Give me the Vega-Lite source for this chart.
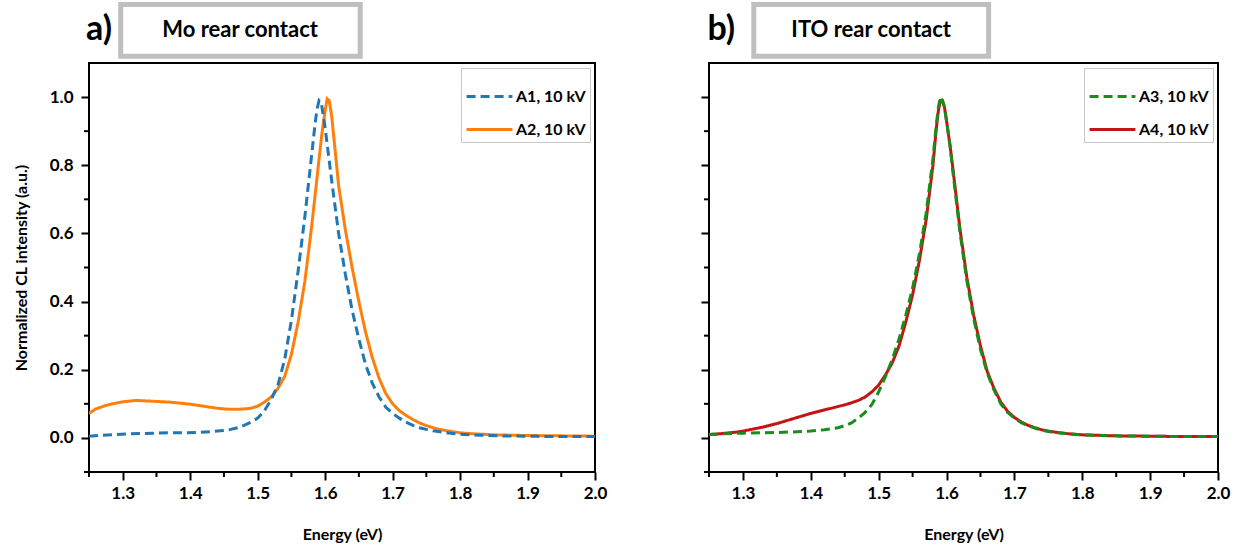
{
  "$schema": "https://vega.github.io/schema/vega-lite/v6.json",
  "padding": {"left": 12, "top": 0, "right": 5, "bottom": 5},
  "background": "white",
  "config": {
    "font": "Lato",
    "view": {"stroke": "black", "strokeWidth": 2},
    "axis": {
      "domain": false, "grid": false, "tickColor": "black", "tickWidth": 2, "tickSize": 8,
      "labelFont": "Lato", "labelFontSize": 17, "labelFontWeight": "bold", "labelColor": "black",
      "titleFont": "Lato", "titleFontSize": 16, "titleFontWeight": "bold", "titleColor": "black",
      "labelFlush": false, "labelOverlap": false, "labelBound": false
    },
    "legend": {
      "orient": "top-right", "offset": 5, "strokeColor": "#c8c8c8", "fillColor": "white", "padding": 4,
      "labelFont": "Lato", "labelFontSize": 16, "labelFontWeight": "bold", "labelColor": "black",
      "symbolType": "stroke", "symbolSize": 2100, "symbolStrokeWidth": 3, "rowPadding": -20, "labelOffset": 2
    }
  },
  "datasets": {
    "xminor": [{"t":1.25},{"t":1.35},{"t":1.45},{"t":1.55},{"t":1.65},{"t":1.75},{"t":1.85},{"t":1.95}],
    "yminor": [{"t":-0.1},{"t":0.1},{"t":0.3},{"t":0.5},{"t":0.7},{"t":0.9}],
    "mo": [
      {"E":1.25,"I":0.072,"s":"A2, 10 kV"},{"E":1.26,"I":0.085,"s":"A2, 10 kV"},{"E":1.27,"I":0.092,"s":"A2, 10 kV"},{"E":1.28,"I":0.098,"s":"A2, 10 kV"},{"E":1.29,"I":0.102,"s":"A2, 10 kV"},{"E":1.30,"I":0.106,"s":"A2, 10 kV"},{"E":1.31,"I":0.108,"s":"A2, 10 kV"},{"E":1.32,"I":0.110,"s":"A2, 10 kV"},{"E":1.33,"I":0.109,"s":"A2, 10 kV"},{"E":1.34,"I":0.108,"s":"A2, 10 kV"},{"E":1.35,"I":0.107,"s":"A2, 10 kV"},{"E":1.36,"I":0.106,"s":"A2, 10 kV"},{"E":1.37,"I":0.105,"s":"A2, 10 kV"},{"E":1.38,"I":0.103,"s":"A2, 10 kV"},{"E":1.39,"I":0.101,"s":"A2, 10 kV"},{"E":1.40,"I":0.099,"s":"A2, 10 kV"},{"E":1.41,"I":0.096,"s":"A2, 10 kV"},{"E":1.42,"I":0.093,"s":"A2, 10 kV"},{"E":1.43,"I":0.090,"s":"A2, 10 kV"},{"E":1.44,"I":0.087,"s":"A2, 10 kV"},{"E":1.45,"I":0.085,"s":"A2, 10 kV"},{"E":1.46,"I":0.084,"s":"A2, 10 kV"},{"E":1.47,"I":0.084,"s":"A2, 10 kV"},{"E":1.48,"I":0.085,"s":"A2, 10 kV"},{"E":1.49,"I":0.087,"s":"A2, 10 kV"},{"E":1.50,"I":0.093,"s":"A2, 10 kV"},{"E":1.51,"I":0.105,"s":"A2, 10 kV"},{"E":1.52,"I":0.12,"s":"A2, 10 kV"},{"E":1.53,"I":0.145,"s":"A2, 10 kV"},{"E":1.54,"I":0.18,"s":"A2, 10 kV"},{"E":1.55,"I":0.245,"s":"A2, 10 kV"},{"E":1.56,"I":0.34,"s":"A2, 10 kV"},{"E":1.57,"I":0.46,"s":"A2, 10 kV"},{"E":1.58,"I":0.62,"s":"A2, 10 kV"},{"E":1.59,"I":0.80,"s":"A2, 10 kV"},{"E":1.595,"I":0.89,"s":"A2, 10 kV"},{"E":1.60,"I":0.96,"s":"A2, 10 kV"},{"E":1.603,"I":0.995,"s":"A2, 10 kV"},{"E":1.606,"I":0.99,"s":"A2, 10 kV"},{"E":1.61,"I":0.94,"s":"A2, 10 kV"},{"E":1.615,"I":0.84,"s":"A2, 10 kV"},{"E":1.62,"I":0.74,"s":"A2, 10 kV"},{"E":1.63,"I":0.61,"s":"A2, 10 kV"},{"E":1.64,"I":0.50,"s":"A2, 10 kV"},{"E":1.65,"I":0.40,"s":"A2, 10 kV"},{"E":1.66,"I":0.31,"s":"A2, 10 kV"},{"E":1.67,"I":0.235,"s":"A2, 10 kV"},{"E":1.68,"I":0.175,"s":"A2, 10 kV"},{"E":1.69,"I":0.13,"s":"A2, 10 kV"},{"E":1.70,"I":0.10,"s":"A2, 10 kV"},{"E":1.71,"I":0.08,"s":"A2, 10 kV"},{"E":1.72,"I":0.066,"s":"A2, 10 kV"},{"E":1.73,"I":0.054,"s":"A2, 10 kV"},{"E":1.74,"I":0.044,"s":"A2, 10 kV"},{"E":1.75,"I":0.036,"s":"A2, 10 kV"},{"E":1.76,"I":0.030,"s":"A2, 10 kV"},{"E":1.77,"I":0.025,"s":"A2, 10 kV"},{"E":1.78,"I":0.021,"s":"A2, 10 kV"},{"E":1.79,"I":0.018,"s":"A2, 10 kV"},{"E":1.80,"I":0.015,"s":"A2, 10 kV"},{"E":1.82,"I":0.012,"s":"A2, 10 kV"},{"E":1.85,"I":0.009,"s":"A2, 10 kV"},{"E":1.90,"I":0.007,"s":"A2, 10 kV"},{"E":1.95,"I":0.006,"s":"A2, 10 kV"},{"E":2.00,"I":0.005,"s":"A2, 10 kV"},
      {"E":1.25,"I":0.005,"s":"A1, 10 kV"},{"E":1.27,"I":0.008,"s":"A1, 10 kV"},{"E":1.29,"I":0.010,"s":"A1, 10 kV"},{"E":1.31,"I":0.012,"s":"A1, 10 kV"},{"E":1.33,"I":0.013,"s":"A1, 10 kV"},{"E":1.35,"I":0.014,"s":"A1, 10 kV"},{"E":1.37,"I":0.015,"s":"A1, 10 kV"},{"E":1.39,"I":0.015,"s":"A1, 10 kV"},{"E":1.41,"I":0.016,"s":"A1, 10 kV"},{"E":1.43,"I":0.018,"s":"A1, 10 kV"},{"E":1.44,"I":0.020,"s":"A1, 10 kV"},{"E":1.45,"I":0.022,"s":"A1, 10 kV"},{"E":1.46,"I":0.025,"s":"A1, 10 kV"},{"E":1.47,"I":0.030,"s":"A1, 10 kV"},{"E":1.48,"I":0.037,"s":"A1, 10 kV"},{"E":1.49,"I":0.046,"s":"A1, 10 kV"},{"E":1.50,"I":0.058,"s":"A1, 10 kV"},{"E":1.51,"I":0.080,"s":"A1, 10 kV"},{"E":1.52,"I":0.112,"s":"A1, 10 kV"},{"E":1.53,"I":0.155,"s":"A1, 10 kV"},{"E":1.54,"I":0.230,"s":"A1, 10 kV"},{"E":1.55,"I":0.345,"s":"A1, 10 kV"},{"E":1.56,"I":0.49,"s":"A1, 10 kV"},{"E":1.57,"I":0.65,"s":"A1, 10 kV"},{"E":1.575,"I":0.74,"s":"A1, 10 kV"},{"E":1.58,"I":0.83,"s":"A1, 10 kV"},{"E":1.585,"I":0.92,"s":"A1, 10 kV"},{"E":1.588,"I":0.965,"s":"A1, 10 kV"},{"E":1.591,"I":0.99,"s":"A1, 10 kV"},{"E":1.594,"I":0.985,"s":"A1, 10 kV"},{"E":1.597,"I":0.95,"s":"A1, 10 kV"},{"E":1.60,"I":0.91,"s":"A1, 10 kV"},{"E":1.605,"I":0.83,"s":"A1, 10 kV"},{"E":1.61,"I":0.75,"s":"A1, 10 kV"},{"E":1.62,"I":0.60,"s":"A1, 10 kV"},{"E":1.63,"I":0.48,"s":"A1, 10 kV"},{"E":1.64,"I":0.375,"s":"A1, 10 kV"},{"E":1.65,"I":0.29,"s":"A1, 10 kV"},{"E":1.66,"I":0.215,"s":"A1, 10 kV"},{"E":1.67,"I":0.16,"s":"A1, 10 kV"},{"E":1.68,"I":0.12,"s":"A1, 10 kV"},{"E":1.69,"I":0.09,"s":"A1, 10 kV"},{"E":1.70,"I":0.072,"s":"A1, 10 kV"},{"E":1.71,"I":0.058,"s":"A1, 10 kV"},{"E":1.72,"I":0.046,"s":"A1, 10 kV"},{"E":1.73,"I":0.037,"s":"A1, 10 kV"},{"E":1.74,"I":0.030,"s":"A1, 10 kV"},{"E":1.75,"I":0.025,"s":"A1, 10 kV"},{"E":1.76,"I":0.021,"s":"A1, 10 kV"},{"E":1.77,"I":0.018,"s":"A1, 10 kV"},{"E":1.78,"I":0.015,"s":"A1, 10 kV"},{"E":1.80,"I":0.011,"s":"A1, 10 kV"},{"E":1.83,"I":0.008,"s":"A1, 10 kV"},{"E":1.86,"I":0.006,"s":"A1, 10 kV"},{"E":1.90,"I":0.005,"s":"A1, 10 kV"},{"E":1.95,"I":0.004,"s":"A1, 10 kV"},{"E":2.00,"I":0.004,"s":"A1, 10 kV"}
    ],
    "ito": [
      {"E":1.25,"I":0.010,"s":"A4, 10 kV"},{"E":1.26,"I":0.011,"s":"A4, 10 kV"},{"E":1.27,"I":0.013,"s":"A4, 10 kV"},{"E":1.28,"I":0.015,"s":"A4, 10 kV"},{"E":1.29,"I":0.017,"s":"A4, 10 kV"},{"E":1.30,"I":0.020,"s":"A4, 10 kV"},{"E":1.31,"I":0.024,"s":"A4, 10 kV"},{"E":1.32,"I":0.028,"s":"A4, 10 kV"},{"E":1.33,"I":0.032,"s":"A4, 10 kV"},{"E":1.34,"I":0.037,"s":"A4, 10 kV"},{"E":1.35,"I":0.042,"s":"A4, 10 kV"},{"E":1.36,"I":0.048,"s":"A4, 10 kV"},{"E":1.37,"I":0.054,"s":"A4, 10 kV"},{"E":1.38,"I":0.060,"s":"A4, 10 kV"},{"E":1.39,"I":0.066,"s":"A4, 10 kV"},{"E":1.40,"I":0.072,"s":"A4, 10 kV"},{"E":1.41,"I":0.077,"s":"A4, 10 kV"},{"E":1.42,"I":0.082,"s":"A4, 10 kV"},{"E":1.43,"I":0.087,"s":"A4, 10 kV"},{"E":1.44,"I":0.092,"s":"A4, 10 kV"},{"E":1.45,"I":0.097,"s":"A4, 10 kV"},{"E":1.46,"I":0.103,"s":"A4, 10 kV"},{"E":1.47,"I":0.110,"s":"A4, 10 kV"},{"E":1.48,"I":0.120,"s":"A4, 10 kV"},{"E":1.49,"I":0.135,"s":"A4, 10 kV"},{"E":1.50,"I":0.155,"s":"A4, 10 kV"},{"E":1.51,"I":0.185,"s":"A4, 10 kV"},{"E":1.52,"I":0.22,"s":"A4, 10 kV"},{"E":1.53,"I":0.27,"s":"A4, 10 kV"},{"E":1.54,"I":0.34,"s":"A4, 10 kV"},{"E":1.55,"I":0.42,"s":"A4, 10 kV"},{"E":1.56,"I":0.52,"s":"A4, 10 kV"},{"E":1.57,"I":0.64,"s":"A4, 10 kV"},{"E":1.58,"I":0.80,"s":"A4, 10 kV"},{"E":1.585,"I":0.91,"s":"A4, 10 kV"},{"E":1.588,"I":0.96,"s":"A4, 10 kV"},{"E":1.591,"I":0.99,"s":"A4, 10 kV"},{"E":1.594,"I":0.99,"s":"A4, 10 kV"},{"E":1.597,"I":0.97,"s":"A4, 10 kV"},{"E":1.60,"I":0.93,"s":"A4, 10 kV"},{"E":1.605,"I":0.86,"s":"A4, 10 kV"},{"E":1.61,"I":0.78,"s":"A4, 10 kV"},{"E":1.62,"I":0.61,"s":"A4, 10 kV"},{"E":1.63,"I":0.47,"s":"A4, 10 kV"},{"E":1.64,"I":0.36,"s":"A4, 10 kV"},{"E":1.65,"I":0.27,"s":"A4, 10 kV"},{"E":1.66,"I":0.195,"s":"A4, 10 kV"},{"E":1.67,"I":0.145,"s":"A4, 10 kV"},{"E":1.68,"I":0.105,"s":"A4, 10 kV"},{"E":1.69,"I":0.078,"s":"A4, 10 kV"},{"E":1.70,"I":0.060,"s":"A4, 10 kV"},{"E":1.71,"I":0.047,"s":"A4, 10 kV"},{"E":1.72,"I":0.037,"s":"A4, 10 kV"},{"E":1.73,"I":0.030,"s":"A4, 10 kV"},{"E":1.74,"I":0.024,"s":"A4, 10 kV"},{"E":1.75,"I":0.020,"s":"A4, 10 kV"},{"E":1.76,"I":0.017,"s":"A4, 10 kV"},{"E":1.78,"I":0.012,"s":"A4, 10 kV"},{"E":1.80,"I":0.009,"s":"A4, 10 kV"},{"E":1.85,"I":0.006,"s":"A4, 10 kV"},{"E":1.90,"I":0.005,"s":"A4, 10 kV"},{"E":1.95,"I":0.004,"s":"A4, 10 kV"},{"E":2.00,"I":0.004,"s":"A4, 10 kV"},
      {"E":1.25,"I":0.010,"s":"A3, 10 kV"},{"E":1.27,"I":0.012,"s":"A3, 10 kV"},{"E":1.30,"I":0.014,"s":"A3, 10 kV"},{"E":1.33,"I":0.015,"s":"A3, 10 kV"},{"E":1.35,"I":0.016,"s":"A3, 10 kV"},{"E":1.38,"I":0.018,"s":"A3, 10 kV"},{"E":1.40,"I":0.020,"s":"A3, 10 kV"},{"E":1.42,"I":0.024,"s":"A3, 10 kV"},{"E":1.44,"I":0.030,"s":"A3, 10 kV"},{"E":1.45,"I":0.036,"s":"A3, 10 kV"},{"E":1.46,"I":0.044,"s":"A3, 10 kV"},{"E":1.47,"I":0.058,"s":"A3, 10 kV"},{"E":1.48,"I":0.075,"s":"A3, 10 kV"},{"E":1.49,"I":0.098,"s":"A3, 10 kV"},{"E":1.50,"I":0.135,"s":"A3, 10 kV"},{"E":1.51,"I":0.18,"s":"A3, 10 kV"},{"E":1.52,"I":0.23,"s":"A3, 10 kV"},{"E":1.53,"I":0.29,"s":"A3, 10 kV"},{"E":1.54,"I":0.36,"s":"A3, 10 kV"},{"E":1.55,"I":0.44,"s":"A3, 10 kV"},{"E":1.56,"I":0.54,"s":"A3, 10 kV"},{"E":1.57,"I":0.66,"s":"A3, 10 kV"},{"E":1.58,"I":0.82,"s":"A3, 10 kV"},{"E":1.585,"I":0.92,"s":"A3, 10 kV"},{"E":1.588,"I":0.97,"s":"A3, 10 kV"},{"E":1.591,"I":1.0,"s":"A3, 10 kV"},{"E":1.594,"I":0.99,"s":"A3, 10 kV"},{"E":1.597,"I":0.97,"s":"A3, 10 kV"},{"E":1.60,"I":0.93,"s":"A3, 10 kV"},{"E":1.605,"I":0.86,"s":"A3, 10 kV"},{"E":1.61,"I":0.77,"s":"A3, 10 kV"},{"E":1.62,"I":0.60,"s":"A3, 10 kV"},{"E":1.63,"I":0.46,"s":"A3, 10 kV"},{"E":1.64,"I":0.35,"s":"A3, 10 kV"},{"E":1.65,"I":0.26,"s":"A3, 10 kV"},{"E":1.66,"I":0.19,"s":"A3, 10 kV"},{"E":1.67,"I":0.14,"s":"A3, 10 kV"},{"E":1.68,"I":0.10,"s":"A3, 10 kV"},{"E":1.69,"I":0.075,"s":"A3, 10 kV"},{"E":1.70,"I":0.058,"s":"A3, 10 kV"},{"E":1.71,"I":0.045,"s":"A3, 10 kV"},{"E":1.72,"I":0.036,"s":"A3, 10 kV"},{"E":1.73,"I":0.029,"s":"A3, 10 kV"},{"E":1.74,"I":0.023,"s":"A3, 10 kV"},{"E":1.75,"I":0.019,"s":"A3, 10 kV"},{"E":1.76,"I":0.016,"s":"A3, 10 kV"},{"E":1.78,"I":0.012,"s":"A3, 10 kV"},{"E":1.80,"I":0.009,"s":"A3, 10 kV"},{"E":1.85,"I":0.006,"s":"A3, 10 kV"},{"E":1.90,"I":0.005,"s":"A3, 10 kV"},{"E":1.95,"I":0.004,"s":"A3, 10 kV"},{"E":2.00,"I":0.004,"s":"A3, 10 kV"}
    ]
  },
  "spacing": 91,
  "resolve": {
    "scale": {"x": "independent", "y": "independent", "color": "independent", "strokeDash": "independent"},
    "legend": {"color": "independent", "strokeDash": "independent"}
  },
  "hconcat": [
    {
      "width": 506, "height": 409,
      "layer": [
        {
          "data": {"name": "mo"},
          "mark": {"type": "line", "strokeWidth": 3, "clip": true},
          "encoding": {
            "x": {"field": "E", "type": "quantitative",
              "scale": {"domain": [1.25, 2.0], "nice": false, "zero": false},
              "axis": {"title": "Energy (eV)", "values": [1.3,1.4,1.5,1.6,1.7,1.8,1.9,2.0], "format": ".1f",
                "labelPadding": 5, "titlePadding": 25}},
            "y": {"field": "I", "type": "quantitative",
              "scale": {"domain": [-0.1, 1.1], "nice": false, "zero": false},
              "axis": {"title": "Normalized CL intensity (a.u.)", "values": [0,0.2,0.4,0.6,0.8,1.0], "format": ".1f",
                "labelPadding": 8, "titlePadding": 20}},
            "color": {"field": "s", "type": "nominal", "title": null,
              "scale": {"domain": ["A1, 10 kV", "A2, 10 kV"], "range": ["#1f77b4", "#ff7f0e"]}},
            "strokeDash": {"field": "s", "type": "nominal", "title": null,
              "scale": {"domain": ["A1, 10 kV", "A2, 10 kV"], "range": [[9, 5], [1, 0]]}}
          }
        },
        {
          "data": {"name": "xminor"},
          "mark": {"type": "rule", "color": "black", "strokeWidth": 2, "y2Offset": 5},
          "encoding": {"x": {"field": "t", "type": "quantitative"}, "y": {"datum": -0.1, "type": "quantitative"}, "y2": {"datum": -0.1}}
        },
        {
          "data": {"name": "yminor"},
          "mark": {"type": "rule", "color": "black", "strokeWidth": 2, "x2Offset": -5},
          "encoding": {"y": {"field": "t", "type": "quantitative"}, "x": {"datum": 1.25, "type": "quantitative"}, "x2": {"datum": 1.25}}
        },
        {
          "data": {"values": [{}]},
          "mark": {"type": "rect", "fill": "white", "stroke": "#bfbfbf", "strokeWidth": 5},
          "encoding": {"x": {"datum": 1.297, "type": "quantitative"}, "x2": {"datum": 1.652}, "y": {"datum": 1.272, "type": "quantitative"}, "y2": {"datum": 1.12}}
        },
        {
          "data": {"values": [{}]},
          "mark": {"type": "text", "fontSize": 22, "fontWeight": "bold", "font": "Lato", "color": "black"},
          "encoding": {"x": {"datum": 1.474, "type": "quantitative"}, "y": {"datum": 1.196, "type": "quantitative"}, "text": {"value": "Mo rear contact"}}
        },
        {
          "data": {"values": [{}]},
          "mark": {"type": "text", "fontSize": 34, "fontWeight": "bold", "font": "Lato", "color": "black"},
          "encoding": {"x": {"datum": 1.265, "type": "quantitative"}, "y": {"datum": 1.196, "type": "quantitative"}, "text": {"value": "a)"}}
        }
      ]
    },
    {
      "width": 509, "height": 409,
      "layer": [
        {
          "data": {"name": "ito"},
          "mark": {"type": "line", "strokeWidth": 3, "clip": true},
          "encoding": {
            "x": {"field": "E", "type": "quantitative",
              "scale": {"domain": [1.25, 2.0], "nice": false, "zero": false},
              "axis": {"title": "Energy (eV)", "values": [1.3,1.4,1.5,1.6,1.7,1.8,1.9,2.0], "format": ".1f",
                "labelPadding": 5, "titlePadding": 25}},
            "y": {"field": "I", "type": "quantitative",
              "scale": {"domain": [-0.1, 1.1], "nice": false, "zero": false},
              "axis": {"title": null, "labels": false, "values": [0,0.2,0.4,0.6,0.8,1.0]}},
            "color": {"field": "s", "type": "nominal", "title": null,
              "scale": {"domain": ["A3, 10 kV", "A4, 10 kV"], "range": ["#1a8c1a", "#c41414"]}},
            "strokeDash": {"field": "s", "type": "nominal", "title": null,
              "scale": {"domain": ["A3, 10 kV", "A4, 10 kV"], "range": [[9, 5], [1, 0]]}}
          }
        },
        {
          "data": {"name": "xminor"},
          "mark": {"type": "rule", "color": "black", "strokeWidth": 2, "y2Offset": 5},
          "encoding": {"x": {"field": "t", "type": "quantitative"}, "y": {"datum": -0.1, "type": "quantitative"}, "y2": {"datum": -0.1}}
        },
        {
          "data": {"name": "yminor"},
          "mark": {"type": "rule", "color": "black", "strokeWidth": 2, "x2Offset": -5},
          "encoding": {"y": {"field": "t", "type": "quantitative"}, "x": {"datum": 1.25, "type": "quantitative"}, "x2": {"datum": 1.25}}
        },
        {
          "data": {"values": [{}]},
          "mark": {"type": "rect", "fill": "white", "stroke": "#bfbfbf", "strokeWidth": 5},
          "encoding": {"x": {"datum": 1.316, "type": "quantitative"}, "x2": {"datum": 1.662}, "y": {"datum": 1.272, "type": "quantitative"}, "y2": {"datum": 1.12}}
        },
        {
          "data": {"values": [{}]},
          "mark": {"type": "text", "fontSize": 22, "fontWeight": "bold", "font": "Lato", "color": "black"},
          "encoding": {"x": {"datum": 1.489, "type": "quantitative"}, "y": {"datum": 1.196, "type": "quantitative"}, "text": {"value": "ITO rear contact"}}
        },
        {
          "data": {"values": [{}]},
          "mark": {"type": "text", "fontSize": 34, "fontWeight": "bold", "font": "Lato", "color": "black"},
          "encoding": {"x": {"datum": 1.268, "type": "quantitative"}, "y": {"datum": 1.196, "type": "quantitative"}, "text": {"value": "b)"}}
        }
      ]
    }
  ]
}
